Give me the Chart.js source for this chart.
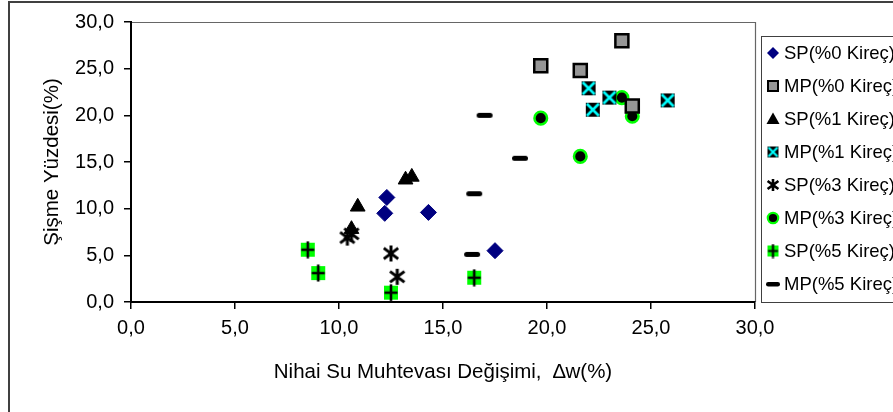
<!DOCTYPE html>
<html>
<head>
<meta charset="utf-8">
<script src="https://cdn.jsdelivr.net/npm/chart.js@4.4.1/dist/chart.umd.min.js"></script>
<style>
html,body{margin:0;padding:0;background:#fff;overflow:hidden;}
#wrap{width:893px;height:412px;}
</style>
</head>
<body>
<div id="wrap"><canvas id="c" width="893" height="412"></canvas></div>
<script>
// ---- Data ----
const seriesNames = ['SP(%0 Kireç)','MP(%0 Kireç)','SP(%1 Kireç)','MP(%1 Kireç)','SP(%3 Kireç)','MP(%3 Kireç)','SP(%5 Kireç)','MP(%5 Kireç)'];
const sp0X = [12.3, 12.2, 14.3, 17.5];
const sp0Y = [11.2, 9.5, 9.6, 5.5];
const mp0X = [19.7, 21.6, 23.6, 24.1];
const mp0Y = [25.3, 24.8, 28.0, 21.0];
const sp1X = [10.6, 10.9, 13.2, 13.5];
const sp1Y = [7.8, 10.2, 13.1, 13.4];
const mp1X = [22.0, 22.2, 23.0, 25.8];
const mp1Y = [22.9, 20.6, 21.9, 21.6];
const sp3X = [10.4, 10.6, 12.5, 12.8];
const sp3Y = [6.9, 7.3, 5.2, 2.7];
const mp3X = [19.7, 21.6, 23.6, 24.1];
const mp3Y = [19.7, 15.6, 21.9, 19.9];
const sp5X = [8.5, 9.0, 12.5, 16.5];
const sp5Y = [5.6, 3.1, 1.0, 2.6];
const mp5X = [16.4, 16.5, 17.0, 18.7];
const mp5Y = [5.1, 11.6, 20.0, 15.4];
const xTicks = [0, 5, 10, 15, 20, 25, 30];
const yTicks = [0, 5, 10, 15, 20, 25, 30];
const xTitle = 'Nihai Su Muhtevası Değişimi,  \u2206w(%)';
const yTitle = 'Şişme Yüzdesi(%)';

const FONT = '"Liberation Sans", Arial, sans-serif';

function pts(xs, ys){ return xs.map((x,i)=>({x:x, y:ys[i]})); }
function fmt(v){ return v.toFixed(1).replace('.', ','); }

// ---- custom marker images ----
function mk(w, h, fn){ const c=document.createElement('canvas'); c.width=w; c.height=h; fn(c.getContext('2d'), w, h); return c; }
function xSquare(s){ return mk(s+2, s+2, (g,w,h)=>{ g.fillStyle='#000'; g.fillRect(1,1,s,s); g.strokeStyle='#00ffff'; g.lineWidth=s>12?2.6:2.2; g.beginPath(); g.moveTo(2,2); g.lineTo(w-2,h-2); g.moveTo(w-2,2); g.lineTo(2,h-2); g.stroke(); }); }
function plusSquare(s){ return mk(s+4, s+4, (g,w,h)=>{ g.fillStyle='#00ff00'; g.fillRect(2,2,s,s); g.strokeStyle='#000'; g.lineWidth=s>12?2.6:2.2; g.beginPath(); g.moveTo(w/2,0.5); g.lineTo(w/2,h-0.5); g.moveTo(2.5,h/2); g.lineTo(w-2.5,h/2); g.stroke(); }); }
function asterisk(s, lw){ return mk(s+4, s+4, (g,w,h)=>{ g.strokeStyle='#000'; g.lineWidth=lw; const cx=w/2, cy=h/2, r=s/2; g.beginPath(); g.moveTo(cx,cy-r); g.lineTo(cx,cy+r); const d=r*0.9; g.moveTo(cx-d,cy-d*0.75); g.lineTo(cx+d,cy+d*0.75); g.moveTo(cx+d,cy-d*0.75); g.lineTo(cx-d,cy+d*0.75); g.stroke(); }); }
function dash(wd, ht){ return mk(wd+2, ht+2, (g,w,h)=>{ g.strokeStyle='#000'; g.lineWidth=ht; g.lineCap='round'; g.beginPath(); g.moveTo(1+ht/2, h/2); g.lineTo(w-1-ht/2, h/2); g.stroke(); }); }

const imgMP1 = xSquare(14), imgSP3 = asterisk(16, 3), imgSP5 = plusSquare(14), imgMP5 = dash(16, 5);
const legMP1 = xSquare(11), legSP3 = asterisk(12, 2.6), legSP5 = plusSquare(11), legMP5 = dash(14, 4.5);

const datasets = [
  {label:seriesNames[0], data:pts(sp0X,sp0Y), pointStyle:'rectRot', radius:8, backgroundColor:'#000080', borderColor:'#000080', borderWidth:1},
  {label:seriesNames[1], data:pts(mp0X,mp0Y), pointStyle:'rect', radius:9.2, backgroundColor:'#969696', borderColor:'#000', borderWidth:2.5},
  {label:seriesNames[2], data:pts(sp1X,sp1Y), pointStyle:'triangle', radius:8.5, backgroundColor:'#000', borderColor:'#000', borderWidth:1},
  {label:seriesNames[3], data:pts(mp1X,mp1Y), pointStyle:imgMP1, radius:8},
  {label:seriesNames[4], data:pts(sp3X,sp3Y), pointStyle:imgSP3, radius:8},
  {label:seriesNames[5], data:pts(mp3X,mp3Y), pointStyle:'circle', radius:6.3, backgroundColor:'#000', borderColor:'#00ff00', borderWidth:2.5},
  {label:seriesNames[6], data:pts(sp5X,sp5Y), pointStyle:imgSP5, radius:8},
  {label:seriesNames[7], data:pts(mp5X,mp5Y), pointStyle:imgMP5, radius:8}
];
datasets.forEach(d=>{ d.showLine=false; d.pointRadius=d.radius; d.pointHoverRadius=d.radius; });

function legendMarker(g, i, x, y){
  g.save();
  switch(i){
    case 0: g.fillStyle='#000080'; g.beginPath(); g.moveTo(x-6,y); g.lineTo(x,y-6); g.lineTo(x+6,y); g.lineTo(x,y+6); g.closePath(); g.fill(); break;
    case 1: g.fillStyle='#969696'; g.strokeStyle='#000'; g.lineWidth=2; g.fillRect(x-5,y-5,10,10); g.strokeRect(x-5,y-5,10,10); break;
    case 2: g.fillStyle='#000'; g.beginPath(); g.moveTo(x,y-6.5); g.lineTo(x+6.5,y+5); g.lineTo(x-6.5,y+5); g.closePath(); g.fill(); break;
    case 3: g.drawImage(legMP1, x-legMP1.width/2, y-legMP1.height/2); break;
    case 4: g.drawImage(legSP3, x-legSP3.width/2, y-legSP3.height/2); break;
    case 5: g.fillStyle='#000'; g.strokeStyle='#00ff00'; g.lineWidth=2.2; g.beginPath(); g.arc(x,y,5.2,0,Math.PI*2); g.fill(); g.stroke(); break;
    case 6: g.drawImage(legSP5, x-legSP5.width/2, y-legSP5.height/2); break;
    case 7: g.drawImage(legMP5, x-legMP5.width/2, y-legMP5.height/2); break;
  }
  g.restore();
}

const decor = {
  id:'decor',
  beforeDraw(chart){
    const g=chart.ctx; g.save(); g.fillStyle='#fff'; g.fillRect(0,0,chart.width,chart.height);
    g.strokeStyle='#404040'; g.lineWidth=2; g.strokeRect(9,2,1000,1000);
    const a=chart.chartArea; g.strokeStyle='#666'; g.lineWidth=1.2;
    g.beginPath(); g.moveTo(a.left, a.top+0.5); g.lineTo(a.right+0.5, a.top+0.5); g.lineTo(a.right+0.5, a.bottom); g.stroke();
    g.restore();
  },
  afterDraw(chart){
    const g=chart.ctx; const a=chart.chartArea; g.save();
    g.fillStyle='#000'; g.font='20.5px '+FONT; g.textAlign='center'; g.textBaseline='middle';
    g.fillText(xTitle, (a.left+a.right)/2, 372);
    g.save(); g.translate(52,(a.top+a.bottom)/2); g.rotate(-Math.PI/2); g.fillText(yTitle,0,0); g.restore();
    // legend box
    g.fillStyle='#fff'; g.fillRect(761,36,200,267);
    g.strokeStyle='#404040'; g.lineWidth=1; g.strokeRect(761.5,36.5,200,266);
    g.font='18.5px '+FONT; g.textAlign='left'; g.fillStyle='#000';
    seriesNames.forEach((n,i)=>{ const y=53+i*33; legendMarker(g,i,773,y); g.fillText(n,784,y+1); });
    g.restore();
  }
};

new Chart(document.getElementById('c'), {
  type:'scatter',
  data:{datasets:datasets},
  options:{
    responsive:false, animation:false,
    layout:{padding:{left:9, top:20, right:138, bottom:0}},
    plugins:{legend:{display:false}, tooltip:{enabled:false}},
    scales:{
      x:{type:'linear', min:0, max:30,
        afterBuildTicks(s){ s.ticks = xTicks.map(v=>({value:v})); },
        afterFit(s){ s.height=110; },
        ticks:{callback:v=>fmt(v), color:'#000', font:{family:FONT, size:20}, padding:7, maxRotation:0, autoSkip:false},
        grid:{display:true, drawOnChartArea:false, drawTicks:true, tickLength:7, color:'#000', lineWidth:1.5},
        border:{display:true, color:'#000', width:2}
      },
      y:{type:'linear', min:0, max:30,
        afterBuildTicks(s){ s.ticks = yTicks.map(v=>({value:v})); },
        afterFit(s){ s.width=122; },
        ticks:{callback:v=>fmt(v), color:'#000', font:{family:FONT, size:20}, padding:10, autoSkip:false},
        grid:{display:true, drawOnChartArea:false, drawTicks:true, tickLength:7, color:'#000', lineWidth:1.5},
        border:{display:true, color:'#000', width:2}
      }
    }
  },
  plugins:[decor]
});
</script>
</body>
</html>
